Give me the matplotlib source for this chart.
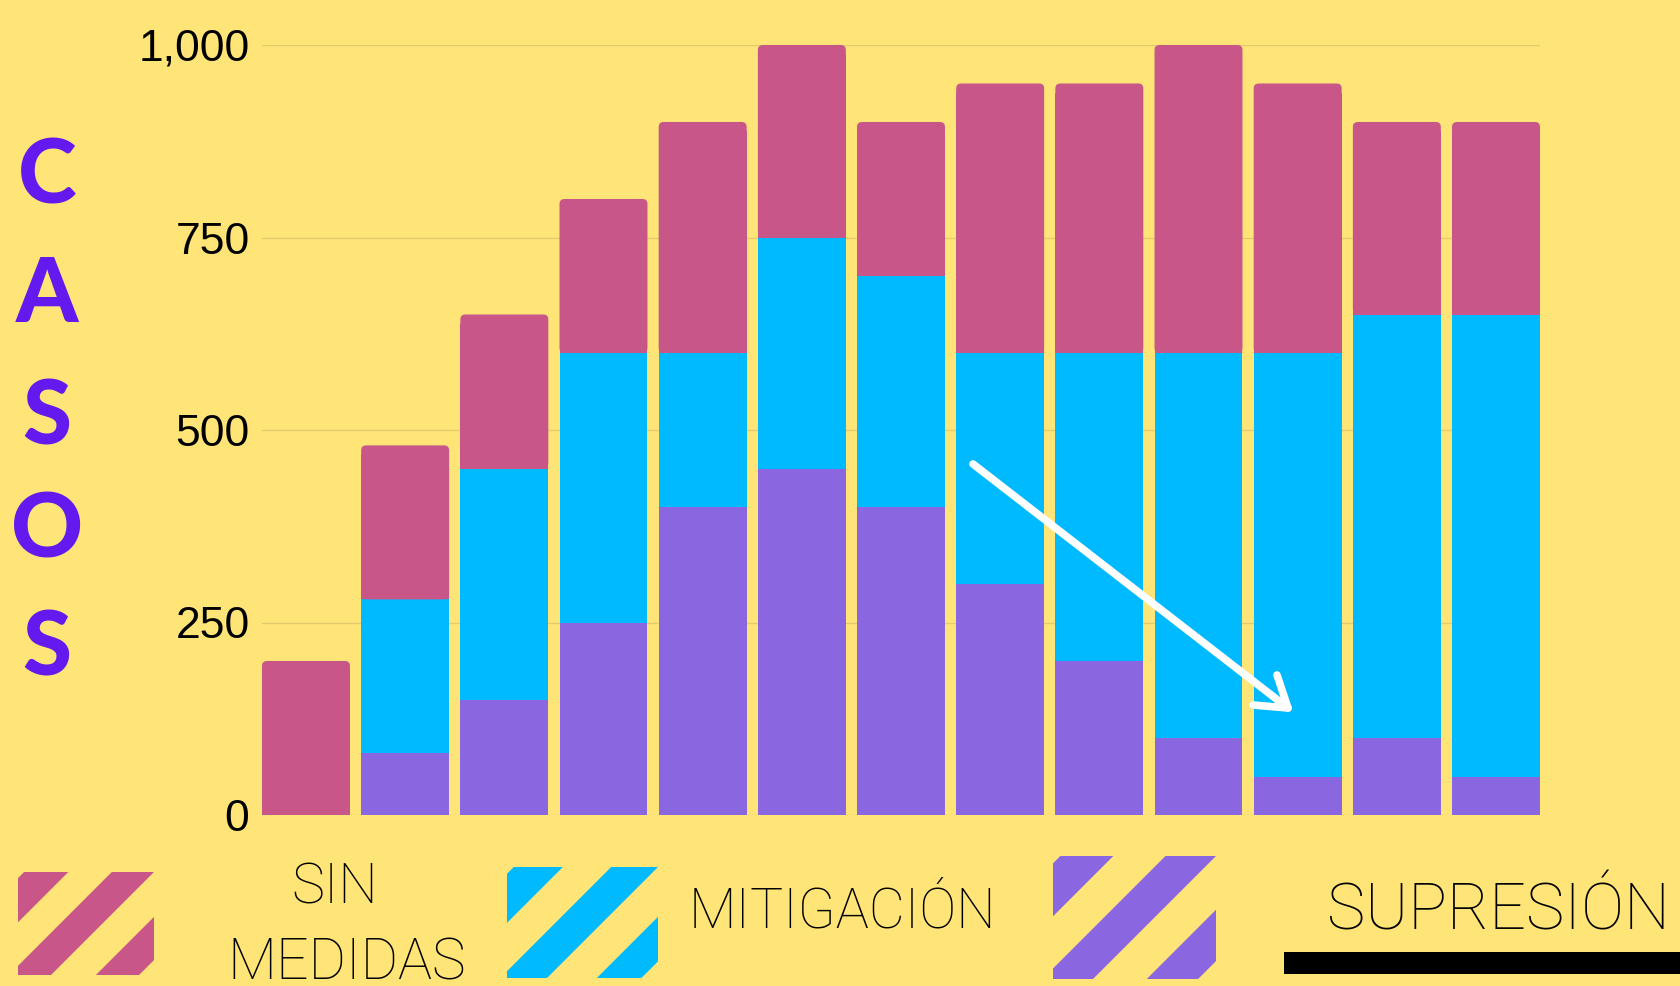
import matplotlib
matplotlib.use("Agg")
import matplotlib.pyplot as plt
from matplotlib.patches import FancyBboxPatch, Polygon
from matplotlib.lines import Line2D
from matplotlib.ticker import FuncFormatter

# ---- data ----
supresion = [0, 80, 150, 250, 400, 450, 400, 300, 200, 100, 50, 100, 50]
mitigacion = [0, 200, 300, 350, 200, 300, 300, 300, 400, 500, 550, 550, 600]
sin_medidas = [200, 200, 200, 200, 300, 250, 200, 350, 350, 400, 350, 250, 250]
y_ticks = [0, 250, 500, 750, 1000]
legend_labels = ["SIN\nMEDIDAS", "MITIGACIÓN", "SUPRESIÓN"]
axis_title = "CASOS"

BG = "#FFE477"
PINK = "#C95689"
CYAN = "#00BAFF"
PURPLE = "#8A67E0"
TITLE_C = "#6419EE"
GRID_C = "#E3CC6E"

W, H = 1680, 986
fig = plt.figure(figsize=(W / 100, H / 100), dpi=100, facecolor=BG)

def fx(x):
    return x / W

def fy(y):
    return 1 - y / H

bw = 0.887
n = len(supresion)
ax = fig.add_axes([fx(262), fy(815), (1540 - 262) / W, (815 - 45) / H])
ax.set_facecolor(BG)
ax.set_xlim(-bw / 2, n - 1 + bw / 2)
ax.set_ylim(0, 1000)
for s in ax.spines.values():
    s.set_visible(False)
ax.set_xticks([])
ax.set_yticks(y_ticks)
ax.yaxis.set_major_formatter(FuncFormatter(lambda v, p: f"{int(v):,}"))
ax.tick_params(axis="y", length=0, pad=9, labelsize=32)
for lab in ax.get_yticklabels():
    lab.set_fontfamily("Liberation Sans")
ax.grid(axis="y", color=GRID_C, lw=1)
ax.set_axisbelow(True)

x = list(range(n))
bottom2 = [a + b for a, b in zip(supresion, mitigacion)]
ax.bar(x, supresion, width=bw, color=PURPLE, zorder=3, linewidth=0)
ax.bar(x, mitigacion, width=bw, bottom=supresion, color=CYAN, zorder=3, linewidth=0)

# pink top segment: square lower part + rounded upper corners
px_per_x = 1278 / (n - 1 + bw)
px_per_y = 770 / 1000
aspect = px_per_x / px_per_y
for i in range(n):
    b = bottom2[i]
    h = sin_medidas[i]
    p = FancyBboxPatch((i - bw / 2, b), bw, h,
                       boxstyle="round,pad=0,rounding_size=0.05",
                       mutation_aspect=aspect, fc=PINK, ec="none", lw=0, zorder=3)
    ax.add_patch(p)
ax.bar(x, [h - 12 for h in sin_medidas], width=bw, bottom=bottom2, color=PINK,
       zorder=3, linewidth=0, antialiased=False)

# vertical CASOS
letter_y = [177, 296, 418, 532, 649]
for ch, yy in zip(axis_title, letter_y):
    fig.text(fx(47), fy(yy), ch, ha="center", va="center", fontsize=64,
             fontweight="black", family="Lato", color=TITLE_C)

# arrow
def fline(p0, p1):
    fig.add_artist(Line2D([fx(p0[0]), fx(p1[0])], [fy(p0[1]), fy(p1[1])],
                          color="white", lw=5.5, solid_capstyle="round",
                          transform=fig.transFigure, zorder=10))
tip = (1288, 708)
fline((973, 464), tip)
fline((1277, 675), tip)
fline((1253, 705), tip)

# legend swatches
def swatch(x0, y0, x1, y1, color):
    w = x1 - x0
    h = y1 - y0
    sa = fig.add_axes([fx(x0), fy(y1), w / W, h / H])
    sa.set_xlim(0, w)
    sa.set_ylim(h, 0)
    sa.axis("off")
    c1 = 0.045 * w
    c2 = 0.11 * w
    shape = Polygon([(c1, 0), (w, 0), (w, h - c2), (w - c2, h), (0, h), (0, c1)],
                    closed=True, fc=color, ec="none")
    sa.add_patch(shape)
    for a, b in [(0.37, 0.69), (1.0, 1.33)]:
        band = Polygon([(a * w, 0), (b * w, 0), (b * w - h, h), (a * w - h, h)],
                       closed=True, fc=BG, ec="none")
        band.set_clip_path(shape)
        sa.add_patch(band)

swatch(18, 872, 154, 975, PINK)
swatch(507, 867, 658, 978, CYAN)
swatch(1053, 856, 1216, 979, PURPLE)

lf = dict(family="Roboto", fontweight="light", color="black")
fig.text(fx(335), fy(904), "SIN", ha="center", va="baseline", fontsize=40, **lf)
fig.text(fx(347), fy(979), "MEDIDAS", ha="center", va="baseline", fontsize=41, **lf)
fig.text(fx(689), fy(928), legend_labels[1], ha="left", va="baseline", fontsize=40, **lf)
fig.text(fx(1327), fy(929), legend_labels[2], ha="left", va="baseline", fontsize=46.5, **lf)

# black bar under SUPRESIÓN
fig.add_artist(plt.Rectangle((fx(1284), fy(974)), (1680 - 1284) / W, 22 / H,
                             transform=fig.transFigure, fc="black", ec="none"))

fig.savefig("out.png", dpi=100, facecolor=BG)
